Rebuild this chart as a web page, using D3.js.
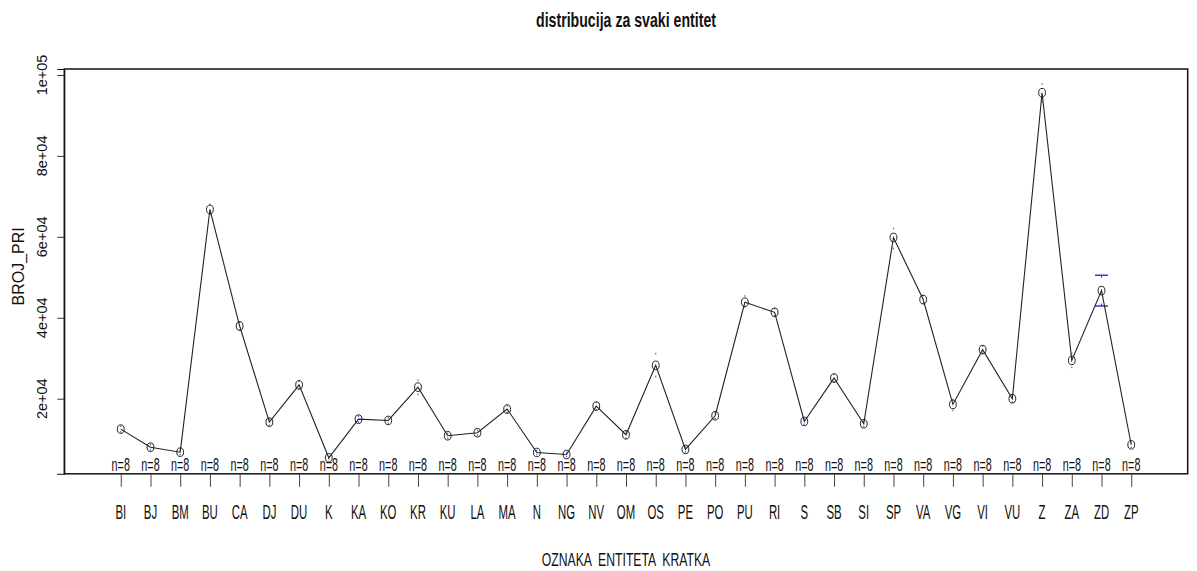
<!DOCTYPE html>
<html>
<head>
<meta charset="utf-8">
<script src="https://cdn.jsdelivr.net/npm/d3@7"></script>
<style>
  html, body { margin: 0; padding: 0; background: #fff; }
  svg { display: block; }
  text { font-family: "Liberation Sans", Arial, sans-serif; fill: #111; }
</style>
</head>
<body>
<svg id="chart" width="1197" height="571"></svg>
<script>
// ---- data ----
const categories = ["BI","BJ","BM","BU","CA","DJ","DU","K","KA","KO","KR","KU","LA","MA","N","NG","NV","OM","OS","PE","PO","PU","RI","S","SB","SI","SP","VA","VG","VI","VU","Z","ZA","ZD","ZP"];
const meanVals = [12480, 8020, 6790, 66770, 37960, 14210, 23415, 5400, 14950, 14630, 22870, 10850, 11590, 17430, 6710, 6220, 18170, 11090, 28240, 7460, 15790, 43830, 41350, 14380, 25100, 13810, 59840, 44500, 18590, 32130, 20000, 95620, 29480, 46720, 8620];
const ciUpper  = [13180, 8620, 7390, 68000, 38960, 15010, 24315, 5650, 15650, 15330, 24530, 11450, 12190, 18230, 7210, 6720, 19070, 11890, 31140, 8060, 16490, 45390, 42250, 15080, 26000, 14510, 62070, 45500, 19800, 33030, 20800, 97770, 31200, 50510, 9220];
const ciLower  = [11780, 7420, 6190, 65540, 36960, 13410, 22515, 5150, 14250, 13930, 21060, 10250, 10990, 16630, 6210, 5720, 17270, 10290, 25500, 6860, 15090, 42670, 40450, 13680, 24200, 13110, 57120, 43500, 17100, 31230, 19200, 93390, 27750, 42910, 8020];
const nLabels  = categories.map(() => "n=8");
const yTicks   = [20000, 40000, 60000, 80000, 100000];
const yTickLabels = ["2e+04", "4e+04", "6e+04", "8e+04", "1e+05"];
const titleText = "distribucija za svaki entitet";
const xLabel = "OZNAKA  ENTITETA  KRATKA";
const yLabel = "BROJ_PRI";

// ---- layout ----
const svg = d3.select("#chart");
const plot = { left: 64.3, right: 1187.7, top: 69, bottom: 473.8 };
const n = categories.length;

// R-style 4% axis extension
const xLim = [0.5, n + 0.5];
const xExt = (xLim[1] - xLim[0]) * 0.04;
const x = d3.scaleLinear().domain([xLim[0] - xExt, xLim[1] + xExt]).range([plot.left, plot.right]);

const yMin = d3.min(ciLower), yMax = d3.max(ciUpper);
const yExt = (yMax - yMin) * 0.04;
const y = d3.scaleLinear().domain([yMin - yExt, yMax + yExt]).range([plot.bottom, plot.top]);

const idx = d3.range(n);

// title
svg.append("text")
  .attr("transform", `translate(${(plot.left + plot.right) / 2},27) scale(0.69,1)`)
  .attr("text-anchor", "middle")
  .attr("font-size", 20.5).attr("font-weight", "bold")
  .text(titleText);

// plot box
svg.append("rect")
  .attr("x", plot.left).attr("y", plot.top)
  .attr("width", plot.right - plot.left).attr("height", plot.bottom - plot.top)
  .attr("fill", "none").attr("stroke", "#111").attr("stroke-width", 1.5);

// y axis
const yAxis = d3.axisLeft(y).tickValues(yTicks).tickSize(7).tickFormat("");
const yg = svg.append("g").attr("transform", `translate(${plot.left},0)`).call(yAxis);
yg.select(".domain").attr("stroke", "#111");
yg.selectAll(".tick line").attr("stroke", "#333");
yTicks.forEach((v, i) => {
  svg.append("text")
    .attr("transform", `translate(46.5,${y(v)}) rotate(-90)`)
    .attr("text-anchor", "middle")
    .attr("font-size", 14.5)
    .attr("fill", "#222")
    .text(yTickLabels[i]);
});
svg.append("text")
  .attr("transform", `translate(24,${(plot.top + plot.bottom) / 2 - 5}) rotate(-90)`)
  .attr("text-anchor", "middle")
  .attr("font-size", 16)
  .attr("fill", "#3a2418")
  .text(yLabel);

// x axis
const xAxis = d3.axisBottom(x).tickValues(idx.map(i => i + 1)).tickSize(13).tickFormat("");
const xg = svg.append("g").attr("transform", `translate(0,${plot.bottom})`).call(xAxis);
xg.select(".domain").remove();
xg.selectAll(".tick line").attr("stroke", "#444");
svg.append("g").selectAll("text").data(categories).join("text")
  .attr("transform", (d, i) => `translate(${x(i + 1)},519) scale(0.57,1)`)
  .attr("text-anchor", "middle")
  .attr("font-size", 20)
  .attr("fill", "#2a1a10")
  .text(d => d);

svg.append("text")
  .attr("transform", `translate(${(plot.left + plot.right) / 2},566) scale(0.66,1)`)
  .attr("text-anchor", "middle")
  .attr("font-size", 18.5)
  .attr("xml:space", "preserve")
  .style("white-space", "pre")
  .attr("fill", "#2a1a10")
  .text(xLabel);

// n labels
svg.append("g").selectAll("text").data(nLabels).join("text")
  .attr("transform", (d, i) => `translate(${x(i + 1)},471) scale(0.6,1)`)
  .attr("text-anchor", "middle")
  .attr("font-size", 18)
  .attr("fill", "#2a1a10")
  .text(d => d);

// error bars (blue) with gap around the mean
const gap = 13, capW = 6.5, barCol = "#3a3ad6";
const eb = svg.append("g");
idx.forEach(i => {
  const cx = x(i + 1), cy = y(meanVals[i]);
  [[y(ciUpper[i]), -1], [y(ciLower[i]), 1]].forEach(([ey, dir]) => {
    const dist = Math.abs(ey - cy);
    if (dist > gap) {
      eb.append("line").attr("x1", cx).attr("x2", cx)
        .attr("y1", cy + dir * gap).attr("y2", ey)
        .attr("stroke", barCol).attr("stroke-width", 1.2);
      eb.append("line").attr("x1", cx - capW).attr("x2", cx + capW)
        .attr("y1", ey).attr("y2", ey)
        .attr("stroke", barCol).attr("stroke-width", 1.5);
    } else {
      eb.append("rect").attr("x", cx - 0.6).attr("y", ey - 0.8)
        .attr("width", 1.2).attr("height", 1.6)
        .attr("fill", barCol).attr("opacity", 0.8);
    }
  });
});

// mean line
const line = d3.line().x(i => x(i + 1)).y(i => y(meanVals[i]));
svg.append("path").datum(idx)
  .attr("d", line)
  .attr("fill", "none").attr("stroke", "#222").attr("stroke-width", 1.1);

// mean markers
svg.append("g").selectAll("ellipse").data(idx).join("ellipse")
  .attr("cx", i => x(i + 1)).attr("cy", i => y(meanVals[i]))
  .attr("rx", 3.4).attr("ry", 4.3)
  .attr("fill", "none").attr("stroke", "#222").attr("stroke-width", 1);
</script>
</body>
</html>
